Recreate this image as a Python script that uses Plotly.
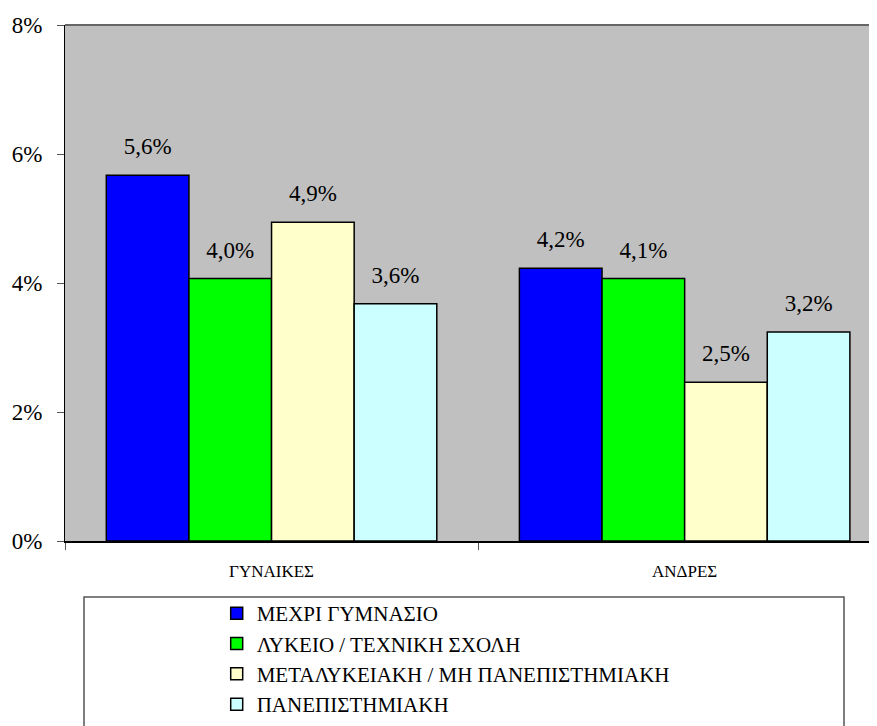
import plotly.graph_objects as go

categories = ["ΓΥΝΑΙΚΕΣ", "ΑΝΔΡΕΣ"]
series_names = [
    "ΜΕΧΡΙ ΓΥΜΝΑΣΙΟ",
    "ΛΥΚΕΙΟ / ΤΕΧΝΙΚΗ ΣΧΟΛΗ",
    "ΜΕΤΑΛΥΚΕΙΑΚΗ / ΜΗ ΠΑΝΕΠΙΣΤΗΜΙΑΚΗ",
    "ΠΑΝΕΠΙΣΤΗΜΙΑΚΗ",
]
gymnasio = [5.67, 4.23]
lykeio = [4.07, 4.07]
metalykeiaki = [4.94, 2.46]
panepistimiaki = [3.68, 3.24]

gymnasio_labels = ["5,6%", "4,2%"]
lykeio_labels = ["4,0%", "4,1%"]
metalykeiaki_labels = ["4,9%", "2,5%"]
panepistimiaki_labels = ["3,6%", "3,2%"]

y_tickvals = [0, 2, 4, 6, 8]
y_ticktext = ["0%", "2%", "4%", "6%", "8%"]

colors = ["#0000FF", "#00FF00", "#FFFFCC", "#CCFFFF"]
values = [gymnasio, lykeio, metalykeiaki, panepistimiaki]
labels = [gymnasio_labels, lykeio_labels, metalykeiaki_labels, panepistimiaki_labels]

FONT = "'Liberation Serif'"
label_gap = 0.2  # space between bar top and its value label (in axis units)

fig = go.Figure()

for i, (name, vals) in enumerate(zip(series_names, values)):
    fig.add_trace(
        go.Bar(
            x=categories,
            y=vals,
            name=name,
            offsetgroup=str(i),
            legendgroup=str(i),
            marker=dict(color=colors[i], line=dict(color="black", width=1.5)),
            hoverinfo="skip",
        )
    )

# invisible bars sitting on top of each bar, only to carry the value labels
for i, (vals, txt) in enumerate(zip(values, labels)):
    fig.add_trace(
        go.Bar(
            x=categories,
            y=[label_gap] * len(vals),
            base=vals,
            offsetgroup=str(i),
            showlegend=False,
            marker=dict(color="rgba(0,0,0,0)", line=dict(width=0)),
            text=txt,
            textposition="outside",
            textfont=dict(family=FONT, size=23, color="black"),
            cliponaxis=False,
            hoverinfo="skip",
        )
    )

fig.update_layout(
    width=877,
    height=726,
    barmode="group",
    bargap=0.2,
    bargroupgap=0,
    plot_bgcolor="#C0C0C0",
    paper_bgcolor="white",
    margin=dict(l=57, r=0, t=17, b=193, autoexpand=False),
    font=dict(family=FONT, color="black"),
    legend=dict(
        x=0.185,
        y=-0.101,
        xanchor="left",
        yanchor="top",
        font=dict(family=FONT, size=21, color="black"),
        bgcolor="rgba(0,0,0,0)",
        traceorder="grouped",
        tracegroupgap=0,
    ),
    showlegend=True,
)

fig.update_xaxes(
    range=[-0.5, 1.485],
    automargin=False,
    showline=True,
    linecolor="black",
    linewidth=2,
    ticks="outside",
    tickson="boundaries",
    ticklen=7,
    tickcolor="#555555",
    tickfont=dict(family=FONT, size=17, color="black"),
    ticklabelstandoff=14,
    showgrid=False,
    zeroline=False,
)

fig.update_yaxes(
    range=[0, 8],
    automargin=False,
    tickvals=y_tickvals,
    ticktext=y_ticktext,
    showline=True,
    linecolor="black",
    linewidth=1,
    ticks="outside",
    ticklen=7,
    tickcolor="#555555",
    tickfont=dict(family=FONT, size=23, color="black"),
    ticklabelstandoff=10,
    showgrid=False,
    zeroline=False,
)

# top border of plot area and the legend frame
fig.add_shape(
    type="line", xref="paper", yref="paper", x0=0, x1=1, y0=1, y1=1,
    line=dict(color="#666666", width=2),
)
fig.add_shape(
    type="rect", xref="paper", yref="paper",
    x0=(84 - 65) / 820, x1=(844 - 65) / 820, y0=(541 - 597) / 516, y1=-0.4,
    line=dict(color="#555555", width=1.5),
)

fig.write_html("out.html")
